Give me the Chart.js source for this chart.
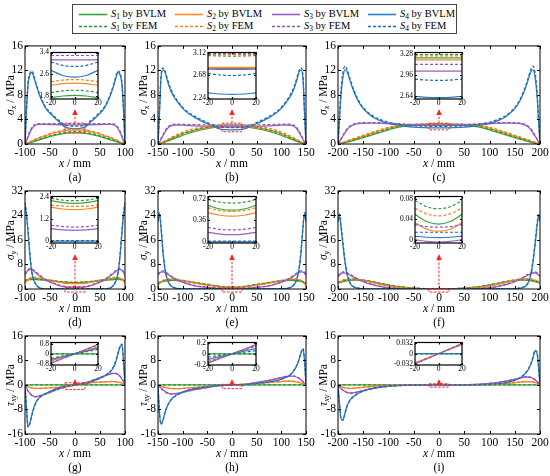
<!DOCTYPE html>
<html>
<head>
<meta charset="utf-8">
<script src="https://cdn.jsdelivr.net/npm/chart.js@4.4.1/dist/chart.umd.min.js"></script>
<style>
  body { margin: 0; width: 550px; height: 476px; position: relative; overflow: hidden; background: #fff;
         font-family: "Liberation Serif", "Times New Roman", serif; color: #000; }
  canvas { position: absolute; }
  .txt { position: absolute; white-space: nowrap; font-size: 11.5px; line-height: 12px; }
  .ytitle { transform: translate(-50%, -50%) rotate(-90deg); }
  .ctr { transform: translate(-50%, -50%); }
  sub { font-size: 70%; line-height: 0; vertical-align: -2px; }
  #legend { position: absolute; left: 72px; top: 4px; width: 383px; height: 28px; border: 1px solid #444; }
  .li { position: absolute; height: 12px; font-size: 10.5px; line-height: 12px; white-space: nowrap; }
  .li svg { position: absolute; left: 0; top: 0; }
  .li span { position: absolute; left: 32px; top: 0; }
</style>
</head>
<body>
<div id="legend"></div>
<script>
// x positions (mm) used by each column of panels
const x100 = [-100,-97,-94,-90,-86,-82,-78,-72,-60,-45,-30,-20,-10,0,10,20,30,45,60,72,78,82,86,90,94,97,100];
const x150 = [-150,-147,-144,-140,-136,-132,-127,-120,-110,-95,-75,-50,-30,-15,0,15,30,50,75,95,110,120,127,132,136,140,144,147,150];
const x200 = [-200,-197,-194,-190,-186,-182,-176,-168,-155,-135,-110,-80,-50,-20,0,20,50,80,110,135,155,168,176,182,186,190,194,197,200];
const xInset = [-20,-10,0,10,20];

const seriesNames = ["S1", "S2", "S3", "S4"];
const methods = ["BVLM", "FEM"];

// (a) sigma_x, L = 100   [S1, S2, S3, S4]
const sxA_BVLM = [
  [0,0.03,0.1,0.2,0.3,0.4,0.5,0.65,0.95,1.32,1.6,1.75,1.81,1.83,1.81,1.75,1.6,1.32,0.95,0.65,0.5,0.4,0.3,0.2,0.1,0.03,0],
  [0,0.05,0.15,0.3,0.45,0.6,0.75,0.95,1.3,1.72,2.0,2.2,2.26,2.28,2.26,2.2,2.0,1.72,1.3,0.95,0.75,0.6,0.45,0.3,0.15,0.05,0],
  [0,0.5,1.1,1.9,2.5,2.9,3.1,3.2,3.2,3.17,3.14,3.13,3.13,3.13,3.13,3.13,3.14,3.17,3.2,3.2,3.1,2.9,2.5,1.9,1.1,0.5,0],
  [0,5.5,9.6,11.3,11.7,10.8,9.7,8.2,6.0,4.6,3.5,2.75,2.56,2.5,2.56,2.75,3.5,4.6,6.0,8.2,9.7,10.8,11.7,11.3,9.6,5.5,0]];
const sxA_FEM = [
  [0,0.05,0.13,0.25,0.36,0.48,0.6,0.76,1.08,1.46,1.76,1.93,2.0,2.02,2.0,1.93,1.76,1.46,1.08,0.76,0.6,0.48,0.36,0.25,0.13,0.05,0],
  [0,0.07,0.2,0.36,0.53,0.7,0.85,1.05,1.4,1.85,2.12,2.33,2.39,2.41,2.39,2.33,2.12,1.85,1.4,1.05,0.85,0.7,0.53,0.36,0.2,0.07,0],
  [0,0.6,1.3,2.1,2.7,3.1,3.25,3.32,3.33,3.31,3.3,3.29,3.29,3.29,3.29,3.29,3.3,3.31,3.33,3.32,3.25,3.1,2.7,2.1,1.3,0.6,0],
  [0,5.8,9.9,11.6,11.9,11.1,9.9,8.4,6.2,4.8,3.7,3.05,2.93,2.89,2.93,3.05,3.7,4.8,6.2,8.4,9.9,11.1,11.9,11.6,9.9,5.8,0]];
const sxA_inBVLM = [[1.75,1.81,1.83,1.81,1.75],[2.2,2.26,2.28,2.26,2.2],[3.13,3.13,3.13,3.13,3.13],[2.75,2.56,2.5,2.56,2.75]];
const sxA_inFEM = [[1.93,2.0,2.02,2.0,1.93],[2.33,2.39,2.41,2.39,2.33],[3.29,3.29,3.29,3.29,3.29],[3.05,2.93,2.89,2.93,3.05]];

// (b) sigma_x, L = 150
const sxB_BVLM = [
  [0,0.03,0.1,0.2,0.3,0.42,0.58,0.8,1.1,1.55,2.05,2.5,2.74,2.815,2.82,2.815,2.74,2.5,2.05,1.55,1.1,0.8,0.58,0.42,0.3,0.2,0.1,0.03,0],
  [0,0.05,0.15,0.3,0.45,0.6,0.8,1.05,1.4,1.85,2.3,2.65,2.8,2.837,2.84,2.837,2.8,2.65,2.3,1.85,1.4,1.05,0.8,0.6,0.45,0.3,0.15,0.05,0],
  [0,0.3,0.7,1.3,1.9,2.4,2.8,3.05,3.1,3.05,2.95,2.86,2.81,2.8,2.8,2.8,2.81,2.86,2.95,3.05,3.1,3.05,2.8,2.4,1.9,1.3,0.7,0.3,0],
  [0,5,10.5,12.1,11.8,10.6,9.3,8.0,6.8,5.4,4.3,3.3,2.6,2.33,2.31,2.33,2.6,3.3,4.3,5.4,6.8,8.0,9.3,10.6,11.8,12.1,10.5,5,0]];
const sxB_FEM = [
  [0,0.05,0.13,0.25,0.38,0.52,0.7,0.95,1.3,1.8,2.3,2.75,2.98,3.05,3.06,3.05,2.98,2.75,2.3,1.8,1.3,0.95,0.7,0.52,0.38,0.25,0.13,0.05,0],
  [0,0.08,0.2,0.38,0.55,0.72,0.93,1.2,1.6,2.1,2.55,2.9,3.04,3.085,3.09,3.085,3.04,2.9,2.55,2.1,1.6,1.2,0.93,0.72,0.55,0.38,0.2,0.08,0],
  [0,0.4,0.9,1.5,2.1,2.6,2.95,3.2,3.25,3.2,3.15,3.12,3.11,3.11,3.11,3.11,3.11,3.12,3.15,3.2,3.25,3.2,2.95,2.6,2.1,1.5,0.9,0.4,0],
  [0,5.5,11,12.4,12.0,10.9,9.6,8.3,7.0,5.6,4.5,3.5,2.85,2.71,2.68,2.71,2.85,3.5,4.5,5.6,7.0,8.3,9.6,10.9,12.0,12.4,11,5.5,0]];
const sxB_inBVLM = [[2.81,2.817,2.82,2.817,2.81],[2.835,2.84,2.84,2.84,2.835],[2.81,2.8,2.8,2.8,2.81],[2.34,2.318,2.31,2.318,2.34]];
const sxB_inFEM = [[3.07,3.063,3.06,3.063,3.07],[3.09,3.09,3.09,3.09,3.09],[3.11,3.11,3.11,3.11,3.11],[2.72,2.69,2.68,2.69,2.72]];

// (c) sigma_x, L = 200
const sxC_BVLM = [
  [0,0.03,0.08,0.15,0.22,0.3,0.42,0.6,0.9,1.4,2.05,2.75,3.1,3.2,3.22,3.2,3.1,2.75,2.05,1.4,0.9,0.6,0.42,0.3,0.22,0.15,0.08,0.03,0],
  [0,0.05,0.12,0.22,0.33,0.44,0.6,0.8,1.15,1.7,2.35,2.95,3.15,3.185,3.19,3.185,3.15,2.95,2.35,1.7,1.15,0.8,0.6,0.44,0.33,0.22,0.12,0.05,0],
  [0,0.35,0.75,1.3,1.8,2.3,2.8,3.15,3.35,3.4,3.35,3.2,3.1,3.03,3.02,3.03,3.1,3.2,3.35,3.4,3.35,3.15,2.8,2.3,1.8,1.3,0.75,0.35,0],
  [0,4,8,11,12.1,11.8,10.3,8.4,6.3,4.6,3.6,3.0,2.75,2.64,2.62,2.64,2.75,3.0,3.6,4.6,6.3,8.4,10.3,11.8,12.1,11,8,4,0]];
const sxC_FEM = [
  [0,0.05,0.11,0.2,0.28,0.37,0.5,0.7,1.02,1.55,2.2,2.85,3.18,3.26,3.27,3.26,3.18,2.85,2.2,1.55,1.02,0.7,0.5,0.37,0.28,0.2,0.11,0.05,0],
  [0,0.07,0.16,0.28,0.4,0.52,0.7,0.92,1.3,1.85,2.5,3.05,3.22,3.25,3.25,3.25,3.22,3.05,2.5,1.85,1.3,0.92,0.7,0.52,0.4,0.28,0.16,0.07,0],
  [0,0.4,0.85,1.45,2.0,2.5,2.95,3.3,3.45,3.5,3.45,3.3,3.18,3.13,3.12,3.13,3.18,3.3,3.45,3.5,3.45,3.3,2.95,2.5,2.0,1.45,0.85,0.4,0],
  [0,4.5,8.8,11.8,12.7,12.2,10.6,8.7,6.5,4.8,3.8,3.2,2.97,2.9,2.88,2.9,2.97,3.2,3.8,4.8,6.5,8.7,10.6,12.2,12.7,11.8,8.8,4.5,0]];
const sxC_inBVLM = [[3.22,3.22,3.22,3.22,3.22],[3.19,3.19,3.19,3.19,3.19],[3.02,3.02,3.02,3.02,3.02],[2.64,2.625,2.62,2.625,2.64]];
const sxC_inFEM = [[3.27,3.27,3.27,3.27,3.27],[3.25,3.25,3.25,3.25,3.25],[3.12,3.12,3.12,3.12,3.12],[2.9,2.885,2.88,2.885,2.9]];

// (d) sigma_y, L = 100
const syD_BVLM = [
  [2.6,2.8,2.95,3.05,3.1,3.1,3.05,3.0,2.85,2.6,2.35,2.22,2.11,2.07,2.11,2.22,2.35,2.6,2.85,3.0,3.05,3.1,3.1,3.05,2.95,2.8,2.6],
  [2.0,2.6,3.0,3.3,3.5,3.55,3.5,3.4,3.05,2.6,2.15,1.86,1.76,1.73,1.76,1.86,2.15,2.6,3.05,3.4,3.5,3.55,3.5,3.3,3.0,2.6,2.0],
  [4.5,5.4,6.0,6.3,6.2,5.8,5.2,4.4,3.0,1.9,1.05,0.67,0.6,0.58,0.6,0.67,1.05,1.9,3.0,4.4,5.2,5.8,6.2,6.3,6.0,5.4,4.5],
  [27.5,24,18.5,10.5,5,2.6,1.4,0.45,0.05,0.01,0,-0.01,-0.02,-0.02,-0.02,-0.01,0,0.01,0.05,0.45,1.4,2.6,5,10.5,18.5,24,27.5]];
const syD_FEM = [
  [2.8,3.0,3.15,3.25,3.3,3.3,3.25,3.2,3.05,2.8,2.5,2.35,2.25,2.22,2.25,2.35,2.5,2.8,3.05,3.2,3.25,3.3,3.3,3.25,3.15,3.0,2.8],
  [2.3,2.9,3.3,3.6,3.8,3.85,3.8,3.65,3.25,2.75,2.3,1.98,1.92,1.9,1.92,1.98,2.3,2.75,3.25,3.65,3.8,3.85,3.8,3.6,3.3,2.9,2.3],
  [4.8,5.7,6.3,6.6,6.5,6.1,5.5,4.7,3.2,2.05,1.2,0.86,0.79,0.76,0.79,0.86,1.2,2.05,3.2,4.7,5.5,6.1,6.5,6.6,6.3,5.7,4.8],
  [28.3,24.8,19.3,11.2,5.4,2.8,1.5,0.5,0.07,0.03,0.02,0.01,0.01,0.01,0.01,0.01,0.02,0.03,0.07,0.5,1.5,2.8,5.4,11.2,19.3,24.8,28.3]];
const syD_inBVLM = [[2.22,2.11,2.07,2.11,2.22],[1.86,1.76,1.73,1.76,1.86],[0.67,0.6,0.58,0.6,0.67],[-0.02,-0.02,-0.02,-0.02,-0.02]];
const syD_inFEM = [[2.35,2.25,2.22,2.25,2.35],[1.98,1.92,1.9,1.92,1.98],[0.86,0.79,0.76,0.79,0.86],[0.01,0.01,0.01,0.01,0.01]];

// (e) sigma_y, L = 150
const syE_BVLM = [
  [1.8,2.0,2.2,2.4,2.55,2.65,2.75,2.8,2.75,2.5,2.0,1.4,0.9,0.575,0.53,0.575,0.9,1.4,2.0,2.5,2.75,2.8,2.75,2.65,2.55,2.4,2.2,2.0,1.8],
  [1.3,1.8,2.2,2.6,2.9,3.1,3.2,3.15,2.9,2.5,1.9,1.25,0.75,0.47,0.43,0.47,0.75,1.25,1.9,2.5,2.9,3.15,3.2,3.1,2.9,2.6,2.2,1.8,1.3],
  [4.5,5.1,5.5,5.6,5.4,5.0,4.4,3.7,2.8,1.9,1.0,0.5,0.22,0.14,0.12,0.14,0.22,0.5,1.0,1.9,2.8,3.7,4.4,5.0,5.4,5.6,5.5,5.1,4.5],
  [22,24.5,20,12,6.5,3.5,1.6,0.6,0.15,0.02,0,0,0,0,0,0,0,0,0,0.02,0.15,0.6,1.6,3.5,6.5,12,20,24.5,22]];
const syE_FEM = [
  [2.0,2.2,2.4,2.6,2.75,2.85,2.95,3.0,2.95,2.7,2.15,1.55,1.0,0.685,0.65,0.685,1.0,1.55,2.15,2.7,2.95,3.0,2.95,2.85,2.75,2.6,2.4,2.2,2.0],
  [1.5,2.0,2.4,2.8,3.1,3.3,3.4,3.35,3.1,2.65,2.05,1.35,0.85,0.545,0.51,0.545,0.85,1.35,2.05,2.65,3.1,3.35,3.4,3.3,3.1,2.8,2.4,2.0,1.5],
  [4.7,5.4,5.8,5.9,5.7,5.3,4.7,3.9,3.0,2.05,1.1,0.58,0.3,0.22,0.2,0.22,0.3,0.58,1.1,2.05,3.0,3.9,4.7,5.3,5.7,5.9,5.8,5.4,4.7],
  [22.5,25,21,12.8,7,3.8,1.8,0.7,0.2,0.05,0.02,0.01,0.01,0.01,0.01,0.01,0.01,0.01,0.02,0.05,0.2,0.7,1.8,3.8,7,12.8,21,25,22.5]];
const syE_inBVLM = [[0.61,0.55,0.53,0.55,0.61],[0.49,0.445,0.43,0.445,0.49],[0.16,0.13,0.12,0.13,0.16],[0,0,0,0,0]];
const syE_inFEM = [[0.71,0.665,0.65,0.665,0.71],[0.57,0.525,0.51,0.525,0.57],[0.24,0.21,0.2,0.21,0.24],[0.01,0.01,0.01,0.01,0.01]];

// (f) sigma_y, L = 200
const syF_BVLM = [
  [1.9,2.05,2.2,2.4,2.55,2.65,2.8,2.9,2.85,2.4,1.6,0.75,0.28,0.05,0.031,0.05,0.28,0.75,1.6,2.4,2.85,2.9,2.8,2.65,2.55,2.4,2.2,2.05,1.9],
  [1.9,2.2,2.5,2.8,3.0,3.1,3.2,3.2,2.9,2.2,1.3,0.55,0.2,0.034,0.017,0.034,0.2,0.55,1.3,2.2,2.9,3.2,3.2,3.1,3.0,2.8,2.5,2.2,1.9],
  [4.0,4.6,5.0,5.3,5.2,5.0,4.5,3.8,2.7,1.5,0.6,0.15,0.02,0.0006,-0.004,0.0006,0.02,0.15,0.6,1.5,2.7,3.8,4.5,5.0,5.2,5.3,5.0,4.6,4.0],
  [22,23.8,20,14,8.5,4.8,1.8,0.6,0.15,0.03,0.01,0.005,0.005,0.006,0.0045,0.006,0.005,0.005,0.01,0.03,0.15,0.6,1.8,4.8,8.5,14,20,23.8,22]];
const syF_FEM = [
  [2.1,2.25,2.4,2.6,2.75,2.85,3.0,3.1,3.05,2.55,1.7,0.82,0.33,0.077,0.061,0.077,0.33,0.82,1.7,2.55,3.05,3.1,3.0,2.85,2.75,2.6,2.4,2.25,2.1],
  [2.1,2.4,2.7,3.0,3.2,3.3,3.4,3.4,3.1,2.35,1.4,0.62,0.24,0.062,0.047,0.062,0.24,0.62,1.4,2.35,3.1,3.4,3.4,3.3,3.2,3.0,2.7,2.4,2.1],
  [4.2,4.8,5.3,5.6,5.5,5.3,4.8,4.0,2.9,1.6,0.7,0.2,0.06,0.03,0.025,0.03,0.06,0.2,0.7,1.6,2.9,4.0,4.8,5.3,5.5,5.6,5.3,4.8,4.2],
  [22.5,24.5,21,15,9.2,5.2,2.0,0.7,0.2,0.05,0.02,0.015,0.015,0.015,0.015,0.015,0.015,0.015,0.02,0.05,0.2,0.7,2.0,5.2,9.2,15,21,24.5,22.5]];
const syF_inBVLM = [[0.05,0.036,0.031,0.036,0.05],[0.034,0.021,0.017,0.021,0.034],[0.0006,-0.0029,-0.004,-0.0029,0.0006],[0.0075,0.0053,0.0045,0.0053,0.0075]];
const syF_inFEM = [[0.077,0.065,0.061,0.065,0.077],[0.062,0.051,0.047,0.051,0.062],[0.03,0.026,0.025,0.026,0.03],[0.015,0.015,0.015,0.015,0.015]];

// (g) tau_xy, L = 100
const txG_BVLM = [
  [0,0,0,0,0,0,0,0,0,0,0,0,0,0,0,0,0,0,0,0,0,0,0,0,0,0,0],
  [0,-0.3,-0.55,-0.8,-0.95,-1.05,-1.1,-1.1,-1.05,-0.9,-0.75,-0.55,-0.28,0,0.28,0.55,0.75,0.9,1.05,1.1,1.1,1.05,0.95,0.8,0.55,0.3,0],
  [0,-1.0,-1.9,-2.8,-3.4,-3.7,-3.8,-3.6,-3.0,-2.1,-1.2,-0.75,-0.37,0,0.37,0.75,1.2,2.1,3.0,3.6,3.8,3.7,3.4,2.8,1.9,1.0,0],
  [0,-7.5,-13.5,-12.2,-9.5,-7.2,-5.6,-4.2,-2.9,-1.8,-0.9,-0.45,-0.22,0,0.22,0.45,0.95,1.9,3.0,4.5,6.0,7.8,10.2,12.3,13.0,7.5,0]];
const txG_FEM = [
  [0,0,0,0,0,0,0,0,0,0,0,0,0,0,0,0,0,0,0,0,0,0,0,0,0,0,0],
  [0,-0.32,-0.58,-0.83,-1.0,-1.08,-1.12,-1.12,-1.03,-0.85,-0.7,-0.5,-0.25,0,0.25,0.5,0.7,0.85,1.03,1.12,1.12,1.08,1.0,0.83,0.58,0.32,0],
  [0,-1.1,-2.0,-2.9,-3.5,-3.8,-3.9,-3.7,-3.05,-2.1,-1.15,-0.7,-0.35,0,0.35,0.7,1.15,2.1,3.05,3.7,3.9,3.8,3.5,2.9,2.0,1.1,0],
  [0,-7.8,-13.8,-12.5,-9.8,-7.4,-5.8,-4.3,-3.0,-1.75,-0.8,-0.35,-0.17,0,0.17,0.35,0.85,1.85,3.1,4.7,6.3,8.1,10.5,12.7,13.3,7.8,0]];
const txG_inBVLM = [[0,0,0,0,0],[-0.55,-0.28,0,0.28,0.55],[-0.75,-0.37,0,0.37,0.75],[-0.45,-0.22,0,0.22,0.45]];
const txG_inFEM = [[0,0,0,0,0],[-0.5,-0.25,0,0.25,0.5],[-0.7,-0.35,0,0.35,0.7],[-0.35,-0.17,0,0.17,0.35]];

// (h) tau_xy, L = 150
const txH_BVLM = [
  [0,0,0,0,0,0,0,0,0,0,0,0,0,0,0,0,0,0,0,0,0,0,0,0,0,0,0,0,0],
  [0,-0.2,-0.4,-0.6,-0.8,-0.95,-1.1,-1.2,-1.2,-1.05,-0.8,-0.5,-0.26,-0.12,0,0.12,0.26,0.5,0.8,1.05,1.2,1.2,1.1,0.95,0.8,0.6,0.4,0.2,0],
  [0,-0.5,-1.0,-1.6,-2.1,-2.5,-2.8,-2.9,-2.7,-2.2,-1.5,-0.85,-0.3,-0.13,0,0.13,0.3,0.85,1.5,2.2,2.7,2.9,2.8,2.5,2.1,1.6,1.0,0.5,0],
  [0,-9,-12.7,-11.5,-9,-7.2,-5.6,-4.2,-3.1,-2.0,-1.2,-0.6,-0.22,-0.075,0,0.075,0.22,0.55,1.0,1.6,2.5,3.6,5.0,6.5,8.3,10.5,11.7,8,0]];
const txH_FEM = [
  [0,0,0,0,0,0,0,0,0,0,0,0,0,0,0,0,0,0,0,0,0,0,0,0,0,0,0,0,0],
  [0,-0.22,-0.43,-0.63,-0.83,-0.98,-1.13,-1.23,-1.23,-1.07,-0.8,-0.48,-0.24,-0.105,0,0.105,0.24,0.48,0.8,1.07,1.23,1.23,1.13,0.98,0.83,0.63,0.43,0.22,0],
  [0,-0.55,-1.1,-1.7,-2.2,-2.6,-2.9,-3.0,-2.8,-2.25,-1.5,-0.82,-0.28,-0.11,0,0.11,0.28,0.82,1.5,2.25,2.8,3.0,2.9,2.6,2.2,1.7,1.1,0.55,0],
  [0,-9.3,-12.9,-11.7,-9.2,-7.3,-5.7,-4.3,-3.15,-2.05,-1.2,-0.55,-0.15,-0.045,0,0.045,0.15,0.5,1.0,1.65,2.6,3.7,5.2,6.7,8.5,10.7,11.9,8.3,0]];
const txH_inBVLM = [[0,0,0,0,0],[-0.16,-0.08,0,0.08,0.16],[-0.17,-0.085,0,0.085,0.17],[-0.1,-0.05,0,0.05,0.1]];
const txH_inFEM = [[0,0,0,0,0],[-0.14,-0.07,0,0.07,0.14],[-0.15,-0.075,0,0.075,0.15],[-0.06,-0.03,0,0.03,0.06]];

// (i) tau_xy, L = 200
const txI_BVLM = [
  [0,0,0,0,0,0,0,0,0,0,0,0,0,0,0,0,0,0,0,0,0,0,0,0,0,0,0,0,0],
  [0,-0.3,-0.55,-0.8,-0.95,-1.05,-1.1,-1.05,-0.85,-0.5,-0.22,-0.07,-0.035,-0.029,0,0.029,0.035,0.07,0.22,0.5,0.85,1.05,1.1,1.05,0.95,0.8,0.55,0.3,0],
  [0,-0.6,-1.1,-1.7,-2.1,-2.4,-2.6,-2.5,-2.0,-1.3,-0.65,-0.25,-0.08,-0.031,0,0.031,0.08,0.25,0.65,1.3,2.0,2.5,2.6,2.4,2.1,1.7,1.1,0.6,0],
  [0,-6,-11,-11.3,-9,-6.8,-4.9,-3.6,-2.3,-1.2,-0.45,-0.12,-0.03,0,0,0,0.03,0.1,0.3,0.8,1.8,3.2,4.8,6.8,8.8,11.0,10.5,6,0]];
const txI_FEM = [
  [0,0,0,0,0,0,0,0,0,0,0,0,0,0,0,0,0,0,0,0,0,0,0,0,0,0,0,0,0],
  [0,-0.32,-0.58,-0.83,-0.98,-1.08,-1.12,-1.07,-0.87,-0.52,-0.23,-0.075,-0.034,-0.028,0,0.028,0.034,0.075,0.23,0.52,0.87,1.07,1.12,1.08,0.98,0.83,0.58,0.32,0],
  [0,-0.65,-1.2,-1.8,-2.2,-2.5,-2.7,-2.6,-2.05,-1.35,-0.68,-0.26,-0.08,-0.032,0,0.032,0.08,0.26,0.68,1.35,2.05,2.6,2.7,2.5,2.2,1.8,1.2,0.65,0],
  [0,-6.3,-11.3,-11.5,-9.2,-7.0,-5.0,-3.7,-2.35,-1.25,-0.47,-0.13,-0.03,0,0,0,0.03,0.11,0.32,0.85,1.9,3.3,5.0,7.0,9.0,11.3,10.8,6.3,0]];
const txI_inBVLM = [[0,0,0,0,0],[-0.029,-0.0145,0,0.0145,0.029],[-0.031,-0.0155,0,0.0155,0.031],[0.0005,0.0005,0.0005,0.0005,0.0005]];
const txI_inFEM = [[0,0,0,0,0],[-0.028,-0.014,0,0.014,0.028],[-0.032,-0.016,0,0.016,0.032],[0,0,0,0,0]];

// tick labels
const insetXTicks = [-20, 0, 20];
const insetYTicks = [[1.8,2.6,3.4],[2.24,2.68,3.12],[2.64,2.96,3.28],[0,1.2,2.4],[0,0.36,0.72],[0,0.04,0.08],[-0.8,0,0.8],[-0.2,0,0.2],[-0.032,0,0.032]];
const panelLabels = ["(a)","(b)","(c)","(d)","(e)","(f)","(g)","(h)","(i)"];
const yTitles = ['<i>σ</i><sub><i>x</i></sub> / MPa', '<i>σ</i><sub><i>y</i></sub> / MPa', '<i>τ</i><sub><i>xy</i></sub> / MPa'];

// ---- layout (page pixels) ----
const colSpan = [[25,125],[158,306],[338,540]];
const rowSpan = [[45,144],[190,289],[335,434]];
const insetCol = [[51,98],[208,256],[415,462]];
const insetRow = [[51,99],[195,243],[341,365]];
const arrowTip = [108, 253, 378];

const FONT = '"Liberation Serif", "Times New Roman", serif';
Chart.defaults.font.family = FONT;
Chart.defaults.color = "#000";

const solidColors = ["#3ba33b", "#ff8a1f", "#9b5fc5", "#2b7dc0"];
const dashColors = ["#2c963a", "#f07f24", "#8c57b8", "#1f6cae"];

// box around plot area with inward ticks on all sides
const framePlugin = {
    id: "frame",
    beforeDraw(chart, args, opts) {
        if (!opts.fill) return;
        const a = chart.chartArea;
        chart.ctx.save();
        chart.ctx.fillStyle = "#fff";
        chart.ctx.fillRect(a.left, a.top, a.right - a.left, a.bottom - a.top);
        chart.ctx.restore();
    },
    afterDraw(chart, args, opts) {
        const { ctx, chartArea: a, scales } = chart;
        const len = opts.tick;
        ctx.save();
        ctx.strokeStyle = "#000";
        ctx.lineWidth = opts.lw;
        ctx.beginPath();
        scales.x.ticks.forEach((t) => {
            const px = Math.round(scales.x.getPixelForValue(t.value)) + 0.5;
            ctx.moveTo(px, a.bottom); ctx.lineTo(px, a.bottom - len);
            ctx.moveTo(px, a.top); ctx.lineTo(px, a.top + len);
        });
        scales.y.ticks.forEach((t) => {
            const py = Math.round(scales.y.getPixelForValue(t.value)) + 0.5;
            ctx.moveTo(a.left, py); ctx.lineTo(a.left + len, py);
            ctx.moveTo(a.right, py); ctx.lineTo(a.right - len, py);
        });
        ctx.stroke();
        ctx.strokeRect(a.left, a.top, a.right - a.left, a.bottom - a.top);
        ctx.restore();
    },
};

// red dashed zoom window and arrow up to the inset
const markerPlugin = {
    id: "marker",
    afterDraw(chart, args, opts) {
        if (!opts.box) return;
        const { ctx, chartArea: a, scales: { x, y } } = chart;
        const x0 = x.getPixelForValue(-20), x1 = x.getPixelForValue(20);
        const yTop = y.getPixelForValue(opts.box[1]);
        const yBot = y.getPixelForValue(opts.box[0]);
        const cx = x.getPixelForValue(0);
        const tip = a.top + opts.tip;
        ctx.save();
        ctx.strokeStyle = "#ff2222";
        ctx.fillStyle = "#ff2222";
        ctx.lineWidth = 1;
        ctx.setLineDash([2.5, 1.5]);
        ctx.strokeRect(x0, yTop, x1 - x0, yBot - yTop);
        ctx.beginPath();
        ctx.moveTo(cx, yTop);
        ctx.lineTo(cx, tip + 5);
        ctx.stroke();
        ctx.setLineDash([]);
        ctx.beginPath();
        ctx.moveTo(cx, tip);
        ctx.lineTo(cx - 2.8, tip + 6);
        ctx.lineTo(cx + 2.8, tip + 6);
        ctx.closePath();
        ctx.fill();
        ctx.restore();
    },
};

function makeCanvas(left, top, w, h) {
    const c = document.createElement("canvas");
    c.width = w;
    c.height = h;
    c.style.left = left + "px";
    c.style.top = top + "px";
    c.style.width = w + "px";
    c.style.height = h + "px";
    document.body.appendChild(c);
    return c;
}

// FEM (dashed) first so Chart.js paints it on top of BVLM
function buildDatasets(xs, bvlm, fem, lw) {
    const sets = [];
    for (let k = 3; k >= 0; k--) {
        sets.push({
            label: seriesNames[k] + " by " + methods[1],
            data: xs.map((x, i) => ({ x, y: fem[k][i] })),
            borderColor: dashColors[k],
            borderWidth: lw,
            borderDash: [3, 2],
            pointRadius: 0,
            cubicInterpolationMode: "monotone",
        });
    }
    for (let k = 3; k >= 0; k--) {
        sets.push({
            label: seriesNames[k] + " by " + methods[0],
            data: xs.map((x, i) => ({ x, y: bvlm[k][i] })),
            borderColor: solidColors[k],
            borderWidth: lw,
            pointRadius: 0,
            cubicInterpolationMode: "monotone",
        });
    }
    return sets;
}

function fixedTicks(values) {
    return (scale) => { scale.ticks = values.map((v) => ({ value: v })); };
}

function mainChart(col, row, xs, bvlm, fem, yMin, yMax, yStep, box) {
    const [pl, pr] = colSpan[col];
    const [pt, pb] = rowSpan[row];
    const YW = 24, XH = 16, PT = 8, PR = 14;
    const canvas = makeCanvas(pl - YW, pt - PT, YW + (pr - pl) + PR, PT + (pb - pt) + XH);
    new Chart(canvas, {
        type: "line",
        data: { datasets: buildDatasets(xs, bvlm, fem, 1.3) },
        options: {
            responsive: false,
            animation: false,
            devicePixelRatio: 1,
            layout: { padding: { top: PT, right: PR, left: 0, bottom: 0 } },
            plugins: {
                legend: { display: false },
                tooltip: { enabled: false },
                frame: { tick: 3, lw: 1 },
                marker: { box, tip: arrowTip[row] - pt },
            },
            scales: {
                x: {
                    type: "linear",
                    min: xs[0],
                    max: xs[xs.length - 1],
                    ticks: { stepSize: 50, padding: 2, autoSkip: false, maxRotation: 0,
                             font: { size: 11.5 }, callback: (v) => String(v) },
                    grid: { display: false, drawTicks: false },
                    border: { display: false },
                    afterFit: (s) => { s.height = XH; },
                },
                y: {
                    min: yMin,
                    max: yMax,
                    ticks: { stepSize: yStep, padding: 2, font: { size: 11.5 }, callback: (v) => String(v) },
                    grid: { display: false, drawTicks: false },
                    border: { display: false },
                    afterFit: (s) => { s.width = YW; },
                },
            },
        },
        plugins: [framePlugin, markerPlugin],
    });
}

function insetChart(col, row, bvlm, fem, yMin, yMax, yTicks) {
    const [pl, pr] = insetCol[col];
    const [pt, pb] = insetRow[row];
    const YW = 22, XH = 9, PT = 5, PR = 6;
    const canvas = makeCanvas(pl - YW, pt - PT, YW + (pr - pl) + PR, PT + (pb - pt) + XH);
    new Chart(canvas, {
        type: "line",
        data: { datasets: buildDatasets(xInset, bvlm, fem, 1.2) },
        options: {
            responsive: false,
            animation: false,
            devicePixelRatio: 1,
            layout: { padding: { top: PT, right: PR, left: 0, bottom: 0 } },
            plugins: {
                legend: { display: false },
                tooltip: { enabled: false },
                frame: { tick: 2, lw: 1.2, fill: true },
            },
            scales: {
                x: {
                    type: "linear",
                    min: -20,
                    max: 20,
                    afterBuildTicks: fixedTicks(insetXTicks),
                    ticks: { padding: 0, autoSkip: false, maxRotation: 0, font: { size: 7.5 }, callback: (v) => String(v) },
                    grid: { display: false, drawTicks: false },
                    border: { display: false },
                    afterFit: (s) => { s.height = XH; },
                },
                y: {
                    min: yMin,
                    max: yMax,
                    afterBuildTicks: fixedTicks(yTicks),
                    ticks: { padding: 2, autoSkip: false, font: { size: 7.5 }, callback: (v) => String(v) },
                    grid: { display: false, drawTicks: false },
                    border: { display: false },
                    afterFit: (s) => { s.width = YW; },
                },
            },
        },
        plugins: [framePlugin],
    });
}

function addText(html, x, y, cls) {
    const d = document.createElement("div");
    d.className = "txt " + cls;
    d.style.left = x + "px";
    d.style.top = y + "px";
    d.innerHTML = html;
    document.body.appendChild(d);
}

// main panels
mainChart(0, 0, x100, sxA_BVLM, sxA_FEM, 0, 16, 4, [1.8, 3.4]);
mainChart(1, 0, x150, sxB_BVLM, sxB_FEM, 0, 16, 4, [2.0, 3.4]);
mainChart(2, 0, x200, sxC_BVLM, sxC_FEM, 0, 16, 4, [2.3, 3.4]);
mainChart(0, 1, x100, syD_BVLM, syD_FEM, 0, 32, 8, [-1.0, 0.5]);
mainChart(1, 1, x150, syE_BVLM, syE_FEM, 0, 32, 8, [-1.0, 0.3]);
mainChart(2, 1, x200, syF_BVLM, syF_FEM, 0, 32, 8, [-1.0, 0.0]);
mainChart(0, 2, x100, txG_BVLM, txG_FEM, -16, 16, 8, [-1.5, 0.7]);
mainChart(1, 2, x150, txH_BVLM, txH_FEM, -16, 16, 8, [-1.2, 0.2]);
mainChart(2, 2, x200, txI_BVLM, txI_FEM, -16, 16, 8, [-0.7, 0.4]);

// insets (zoom of -20..20 mm)
insetChart(0, 0, sxA_inBVLM, sxA_inFEM, 1.7, 3.4, insetYTicks[0]);
insetChart(1, 0, sxB_inBVLM, sxB_inFEM, 2.22, 3.13, insetYTicks[1]);
insetChart(2, 0, sxC_inBVLM, sxC_inFEM, 2.6, 3.3, insetYTicks[2]);
insetChart(0, 1, syD_inBVLM, syD_inFEM, -0.12, 2.45, insetYTicks[3]);
insetChart(1, 1, syE_inBVLM, syE_inFEM, -0.02, 0.76, insetYTicks[4]);
insetChart(2, 1, syF_inBVLM, syF_inFEM, -0.006, 0.085, insetYTicks[5]);
insetChart(0, 2, txG_inBVLM, txG_inFEM, -0.88, 0.9, insetYTicks[6]);
insetChart(1, 2, txH_inBVLM, txH_inFEM, -0.205, 0.21, insetYTicks[7]);
insetChart(2, 2, txI_inBVLM, txI_inFEM, -0.035, 0.035, insetYTicks[8]);

// axis titles and panel labels
const xTitleY = [163, 308, 453];
const panelY = [177, 322, 467];
for (let r = 0; r < 3; r++) {
    for (let c = 0; c < 3; c++) {
        const [pl, pr] = colSpan[c];
        const [pt, pb] = rowSpan[r];
        const cx = (pl + pr) / 2;
        addText(yTitles[r], pl - 15, (pt + pb) / 2, "ytitle");
        addText("<i>x</i> / mm", cx, xTitleY[r], "ctr");
        addText(panelLabels[r * 3 + c], cx, panelY[r], "ctr");
    }
}

// legend
const legend = document.getElementById("legend");
const legendCols = [6, 102, 199, 295];
const legendRows = [3, 15];
methods.forEach((m, r) => {
    seriesNames.forEach((s, k) => {
        const item = document.createElement("div");
        item.className = "li";
        item.style.left = legendCols[k] + "px";
        item.style.top = legendRows[r] + "px";
        const color = r === 0 ? solidColors[k] : dashColors[k];
        const dash = r === 0 ? "" : ' stroke-dasharray="3 2"';
        item.innerHTML =
            '<svg width="28" height="12"><line x1="0" y1="6.5" x2="28" y2="6.5" stroke="' + color +
            '" stroke-width="1.6"' + dash + '/></svg>' +
            "<span><i>S</i><sub>" + s.slice(1) + "</sub> by " + m + "</span>";
        legend.appendChild(item);
    });
});
</script>
</body>
</html>
